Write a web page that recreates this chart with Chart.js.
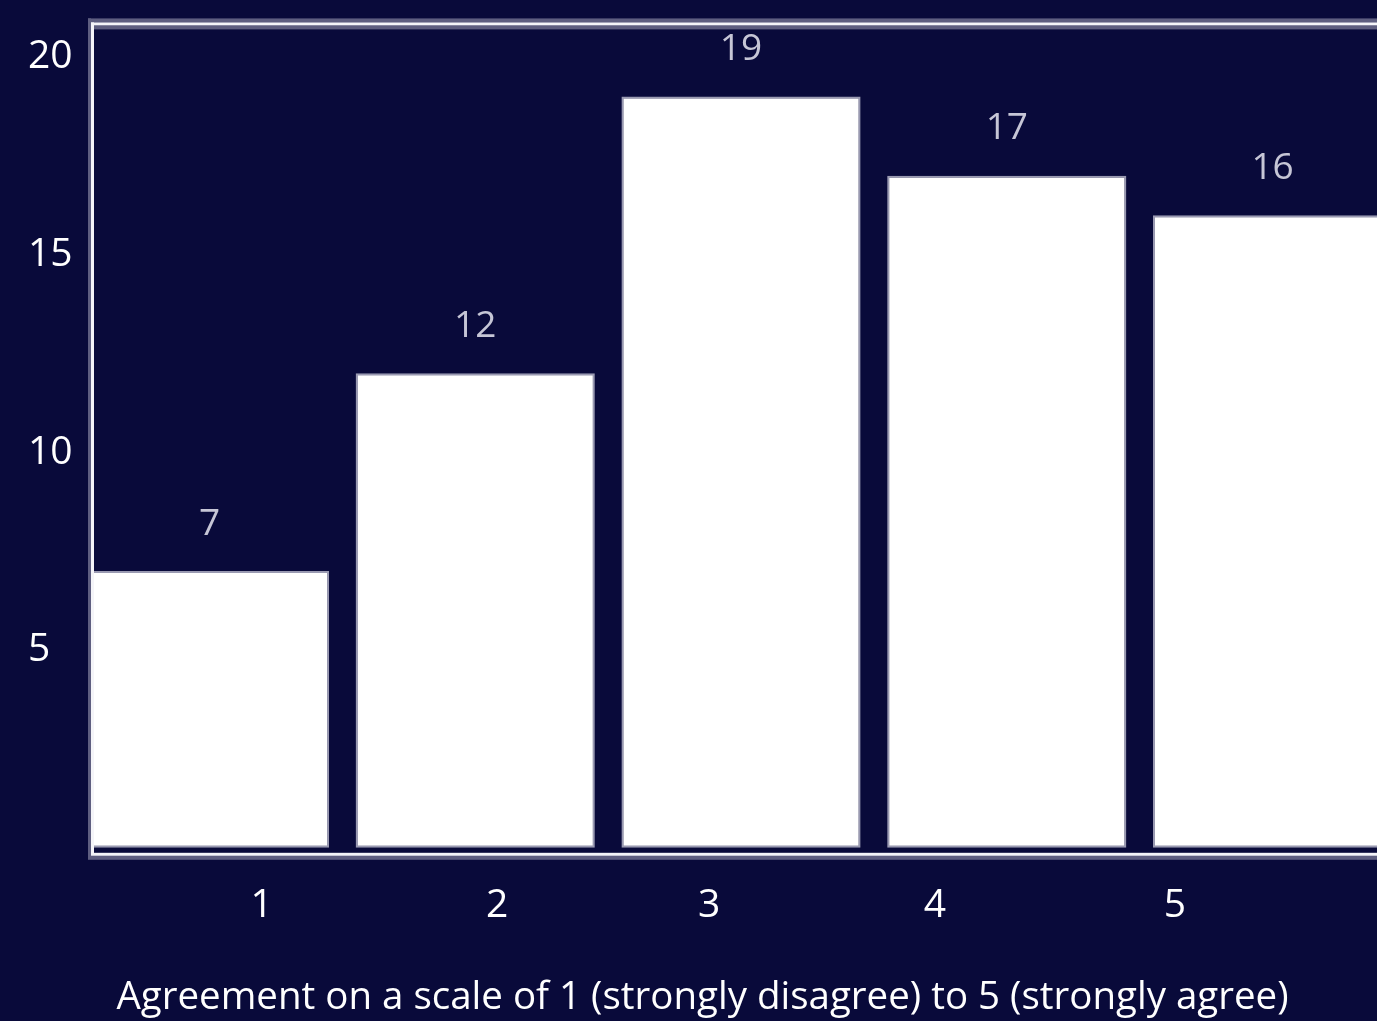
<!DOCTYPE html>
<html>
<head>
<meta charset="utf-8">
<script src="https://cdn.jsdelivr.net/npm/chart.js@4.4.1/dist/chart.umd.min.js"></script>
<style>
  html, body { margin: 0; padding: 0; background: #090a3a; overflow: hidden; }
  #wrap { width: 1377px; height: 1021px; position: relative; }
</style>
</head>
<body>
<div id="wrap"><canvas id="c"></canvas></div>
<script>
// Survey answers per agreement level
const categories = [1, 2, 3, 4, 5];
const responses = [7, 12, 19, 17, 16];
const yTicks = [5, 10, 15, 20];
const axisTitle = 'Agreement on a scale of 1 (strongly disagree) to 5 (strongly agree)';

// Layout: visible x window (the last bar runs past the right edge) and where the level labels sit
const X_MIN = 0.558, X_MAX = 5.393;
const labelAt = [1.196, 2.082, 2.880, 3.730, 4.633];

const FONT = "'Open Sans', 'Noto Sans', sans-serif";

// Frame around the plot: left, top and bottom rules
const framePlugin = {
  id: 'frame',
  afterDatasetsDraw(chart) {
    const { ctx, chartArea: a } = chart;
    ctx.save();
    ctx.fillStyle = '#5e5e80';
    ctx.fillRect(a.left - 4, a.top - 5, chart.width, 4);      // top outer
    ctx.fillRect(a.left - 4, a.top + 2, chart.width, 4);      // top inner
    ctx.fillRect(a.left - 4, a.top - 5, 3, a.bottom - a.top + 10); // left outer
    ctx.fillRect(a.left - 4, a.bottom + 2, chart.width, 4);   // bottom outer
    ctx.fillStyle = '#f4f4f8';
    ctx.fillRect(a.left - 1, a.top - 1, chart.width, 3);
    ctx.fillRect(a.left - 1, a.top - 1, 3, a.bottom - a.top + 2);
    ctx.fillRect(a.left - 1, a.bottom - 1, chart.width, 3);
    ctx.restore();
  }
};

// Value labels above each bar
const valueLabels = {
  id: 'valueLabels',
  afterDatasetsDraw(chart) {
    const { ctx } = chart;
    const meta = chart.getDatasetMeta(0);
    ctx.save();
    ctx.fillStyle = '#c6c6d6';
    ctx.font = "37px " + FONT;
    ctx.textAlign = 'center';
    ctx.textBaseline = 'middle';
    meta.data.forEach((bar, i) => {
      ctx.fillText(String(responses[i]), bar.x, bar.y - 47);
    });
    ctx.restore();
  }
};

new Chart(document.getElementById('c'), {
  type: 'bar',
  data: {
    datasets: [{
      data: categories.map((c, i) => ({ x: c, y: responses[i] })),
      backgroundColor: '#ffffff',
      borderColor: '#9a9ab2',
      borderWidth: 2,
      borderSkipped: false,
      categoryPercentage: 1,
      barPercentage: 0.9,
      xAxisID: 'x',
      yAxisID: 'y'
    }]
  },
  options: {
    responsive: true,
    maintainAspectRatio: false,
    animation: false,
    devicePixelRatio: 1,
    layout: { padding: { top: 22, left: 28, right: 0, bottom: 0 } },
    plugins: {
      legend: { display: false },
      tooltip: { enabled: false },
      title: {
        display: true,
        text: axisTitle,
        position: 'bottom',
        color: '#ffffff',
        font: { family: FONT, size: 38.5, weight: 'normal' },
        padding: { top: 0, bottom: 0 }
      }
    },
    scales: {
      x: {
        type: 'linear',
        min: X_MIN,
        max: X_MAX,
        offset: false,
        display: false,
        afterBuildTicks: s => { s.ticks = categories.map(v => ({ value: v })); }
      },
      xl: {
        type: 'linear',
        position: 'bottom',
        min: X_MIN,
        max: X_MAX,
        offset: false,
        grid: { display: false, offset: false },
        border: { display: false },
        afterBuildTicks: s => { s.ticks = labelAt.map(v => ({ value: v })); },
        afterFit: s => { s.height = 121; },
        ticks: {
          autoSkip: false,
          maxRotation: 0,
          color: '#ffffff',
          padding: 21,
          font: { family: FONT, size: 39 },
          callback: (v, i) => String(categories[i])
        }
      },
      y: {
        type: 'linear',
        min: -0.15,
        max: 20.85,
        grid: { display: false },
        border: { display: false },
        afterBuildTicks: s => { s.ticks = yTicks.map(v => ({ value: v })); },
        afterFit: s => { s.width = 64; },
        ticks: {
          color: '#ffffff',
          crossAlign: 'far',
          padding: 0,
          font: { family: FONT, size: 39 }
        }
      }
    }
  },
  plugins: [framePlugin, valueLabels]
});
</script>
</body>
</html>
